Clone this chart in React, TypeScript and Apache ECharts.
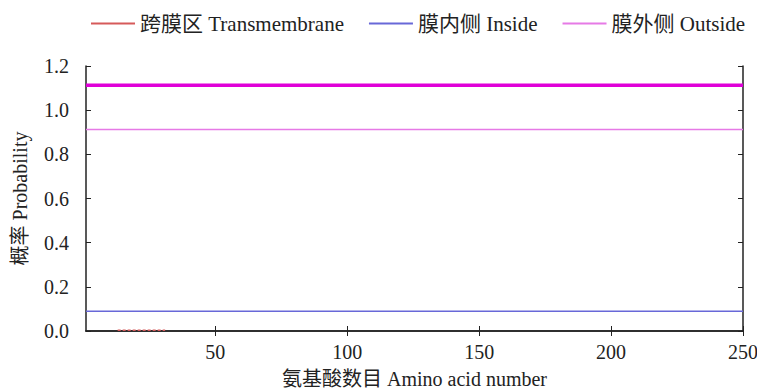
import React, { useEffect, useRef } from "react";
import * as echarts from "echarts";

const xTicks = [50, 100, 150, 200, 250];
const tmX = [13, 16, 19, 22, 25, 28, 31];
const tmY = [0.003, 0.003, 0.003, 0.003, 0.003, 0.003, 0.003];
const insideX = [1, 250];
const insideY = [0.09, 0.09];
const outsideX = [1, 250];
const outsideY = [0.913, 0.913];
const topoX = [1, 250];
const topoY = [1.113, 1.113];

const FONT = "'Liberation Serif', 'Times New Roman', 'Noto Sans CJK SC', serif";

const zip = (xs: number[], ys: number[]) => xs.map((x, i) => [x, ys[i]]);

export default function App() {
  const ref = useRef<HTMLDivElement>(null);
  useEffect(() => {
    if (!ref.current) return;
    const chart = echarts.init(ref.current, null, { renderer: "svg" });
    const axisLine = { show: true, lineStyle: { color: "#222", width: 1.5 } };
    chart.setOption({
      animation: false,
      backgroundColor: "#fff",
      textStyle: { fontFamily: FONT },
      legend: {
        left: 91,
        top: 13,
        padding: 0,
        width: 700,
        itemWidth: 44,
        itemHeight: 2,
        itemGap: 25,
        icon: "rect",
        textStyle: { fontFamily: FONT, fontSize: 21, color: "#222" },
        data: [
          { name: "跨膜区 Transmembrane", lineStyle: { type: "solid", width: 2 } },
          { name: "膜内侧 Inside", lineStyle: { width: 2 } },
          { name: "膜外侧 Outside", lineStyle: { width: 2 } },
        ],
      },
      grid: {
        left: 86,
        right: 14,
        top: 66,
        bottom: 61,
        containLabel: false,
        outerBoundsMode: "none",
      },
      xAxis: [
        {
          type: "value",
          min: 1,
          max: 250,
          name: "氨基酸数目 Amino acid number",
          nameLocation: "middle",
          nameGap: 38,
          nameTextStyle: { fontFamily: FONT, fontSize: 20, color: "#222" },
          axisLine,
          axisTick: { show: true, inside: true, length: 5, customValues: xTicks, lineStyle: { color: "#222" } },
          axisLabel: { customValues: xTicks, fontFamily: FONT, fontSize: 20, color: "#222", margin: 11 },
          splitLine: { show: false },
        },
        {
          type: "value",
          position: "top",
          min: 1,
          max: 250,
          axisLine,
          axisTick: { show: true, inside: true, length: 5, customValues: xTicks, lineStyle: { color: "#222" } },
          axisLabel: { show: false },
          splitLine: { show: false },
        },
      ],
      yAxis: [
        {
          type: "value",
          min: 0,
          max: 1.2,
          interval: 0.2,
          name: "概率 Probability",
          nameLocation: "middle",
          nameGap: 56,
          nameTextStyle: { fontFamily: FONT, fontSize: 20, color: "#222" },
          axisLine,
          axisTick: { show: true, inside: true, length: 5, lineStyle: { color: "#222" } },
          axisLabel: {
            fontFamily: FONT,
            fontSize: 20,
            color: "#222",
            margin: 17,
            formatter: (v: number) => v.toFixed(1),
          },
          splitLine: { show: false },
        },
        {
          type: "value",
          position: "right",
          min: 0,
          max: 1.2,
          interval: 0.2,
          axisLine,
          axisTick: { show: true, inside: true, length: 5, lineStyle: { color: "#222" } },
          axisLabel: { show: false },
          splitLine: { show: false },
        },
      ],
      series: [
        {
          name: "跨膜区 Transmembrane",
          type: "line",
          symbol: "none",
          data: zip(tmX, tmY),
          lineStyle: { color: "#d65a5a", width: 1.5, type: [3, 2] },
          itemStyle: { color: "#d65a5a" },
          z: 3,
        },
        {
          name: "膜内侧 Inside",
          type: "line",
          symbol: "none",
          data: zip(insideX, insideY),
          lineStyle: { color: "#6868d8", width: 1.5 },
          itemStyle: { color: "#6868d8" },
        },
        {
          name: "膜外侧 Outside",
          type: "line",
          symbol: "none",
          data: zip(outsideX, outsideY),
          lineStyle: { color: "#e67ae6", width: 1.5 },
          itemStyle: { color: "#e67ae6" },
        },
        {
          name: "topology",
          type: "line",
          symbol: "none",
          data: zip(topoX, topoY),
          lineStyle: { color: "#e000d8", width: 3.5 },
          itemStyle: { color: "#e000d8" },
        },
      ],
    });
    return () => chart.dispose();
  }, []);
  return (
    <div
      ref={ref}
      style={{ position: "fixed", left: 0, top: 0, width: 757, height: 392 }}
    />
  );
}
